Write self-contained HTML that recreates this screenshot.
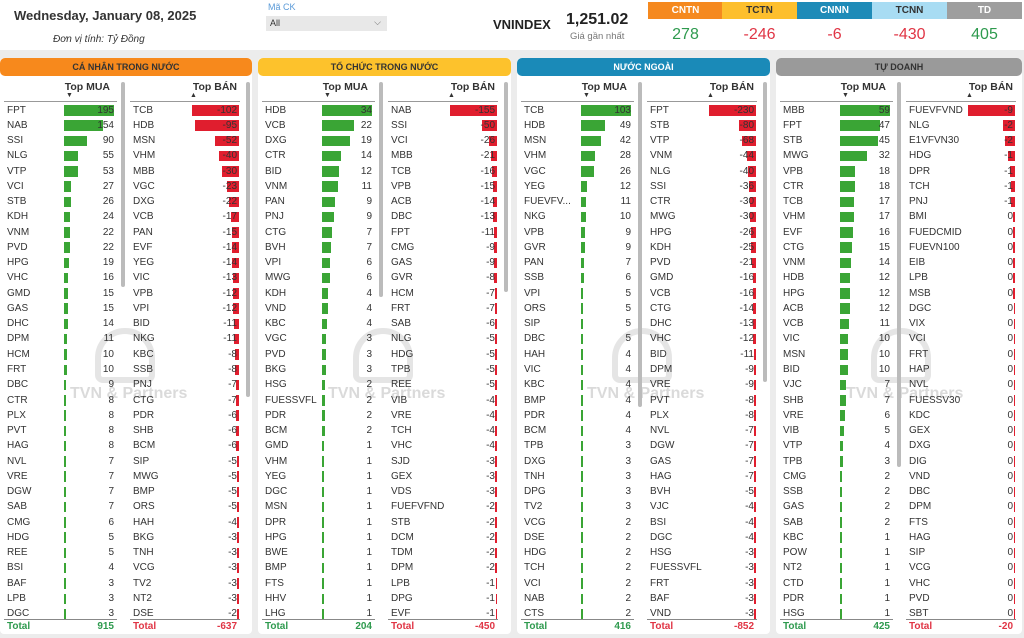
<!DOCTYPE html>
<html><head><meta charset="utf-8"><style>
*{margin:0;padding:0;box-sizing:border-box}
body{width:1024px;height:638px;overflow:hidden;background:#ececec;font-family:"Liberation Sans",sans-serif;position:relative;color:#333}
.top{position:absolute;left:0;top:0;width:1024px;height:50px;background:#fff}
.a{position:absolute;white-space:nowrap}
.tile{position:absolute;top:2px;height:17px;width:75px;text-align:center;font:bold 10px/17px "Liberation Sans",sans-serif;color:#fff}
.tv{position:absolute;top:26px;width:75px;text-align:center;font:16px "Liberation Sans",sans-serif}
.g{color:#2e9a4e}.r{color:#e03545}
.panel{position:absolute;top:58px;height:576px;background:#fff;border-radius:4px}
.ph{position:absolute;left:0;top:0;height:18px;border-radius:5px;text-align:center;font:bold 9px/18px "Liberation Sans",sans-serif;color:#333}
.col{position:absolute;top:0;height:576px}
.hd{position:absolute;top:23px;font:bold 10.5px "Liberation Sans",sans-serif;color:#333}
.ar{position:absolute;top:34px;font-size:7px;color:#333}
.ln{position:absolute;left:0;right:0;top:43px;border-top:1px solid #999}
.rows{position:absolute;left:0;right:0;top:44.5px;height:516.5px;overflow:hidden}
.rows p{position:relative;height:15.27px;font:10px/15.27px "Liberation Sans",sans-serif;color:#333}
.rows b{font-weight:normal;position:absolute;left:3px}
.rows i{position:absolute;top:2.5px;height:10.5px}
.rows s{text-decoration:none;position:absolute;right:3px}
.buy i{left:60px;background:#3aa535}
.sell i{right:1px;background:#e01e2e}
.tot{position:absolute;left:0;right:0;top:561px;border-top:1px solid #888;height:15px;font:bold 10px/13px "Liberation Sans",sans-serif}
.tot span{position:absolute;left:3px}.tot em{font-style:normal;position:absolute;right:3px}
.sb{position:absolute;width:4px;background:#bbb;border-radius:2px;top:24px}
.wm{position:absolute;top:327px;left:70px;font:bold 16px "Liberation Sans",sans-serif;color:rgba(150,150,150,.35)}
.wl{position:absolute;top:270px;left:95px;width:60px;height:55px;border:6px solid rgba(150,150,150,.25);border-radius:30px 30px 8px 8px}
</style></head><body>
<div class="top"></div>
<div class="a" style="left:14px;top:8px;font:bold 13px 'Liberation Sans',sans-serif;color:#333">Wednesday, January 08, 2025</div>
<div class="a" style="left:53px;top:34px;font:italic 10px 'Liberation Sans',sans-serif;color:#333">Đơn vị tính: Tỷ Đồng</div>
<div class="a" style="left:268px;top:2px;font:9px 'Liberation Sans',sans-serif;color:#5a9ad8">Mã CK</div>
<div class="a" style="left:266px;top:16px;width:121px;height:15px;background:#e8e8e8;font:9px/15px 'Liberation Sans',sans-serif;padding-left:4px">All<span style="position:absolute;right:6px;top:-1px;color:#666">⌵</span></div>
<div class="a" style="left:493px;top:17px;font:bold 13px 'Liberation Sans',sans-serif;color:#222">VNINDEX</div>
<div class="a" style="left:566px;top:11px;font:bold 16px 'Liberation Sans',sans-serif;color:#222">1,251.02</div>
<div class="a" style="left:570px;top:31px;font:9.5px 'Liberation Sans',sans-serif;color:#777">Giá gần nhất</div>
<div class="tile" style="left:648px;background:#f5891f">CNTN</div>
<div class="tile" style="left:722px;background:#fdbf2d;color:#333">TCTN</div>
<div class="tile" style="left:797px;background:#1e8bb8">CNNN</div>
<div class="tile" style="left:872px;background:#a8dcf3;color:#333">TCNN</div>
<div class="tile" style="left:947px;background:#9e9e9e">TD</div>
<div class="tv g" style="left:648px">278</div><div class="tv r" style="left:722px">-246</div><div class="tv r" style="left:797px">-6</div><div class="tv r" style="left:872px">-430</div><div class="tv g" style="left:947px">405</div>

<!-- CN -->
<div class="panel" style="left:0;width:252px">
<div class="ph" style="width:252px;background:#f7891c">CÁ NHÂN TRONG NƯỚC</div>
<div class="wl"></div><div class="wm">TVN &amp; Partners</div>
<div class="col buy" style="left:4px;width:113px"><div class="hd" style="right:7px">Top MUA</div><div class="ar" style="left:62px">▼</div><div class="ln"></div>
<div class="rows">
<p><b>FPT</b><i style="width:50px"></i><s>195</s></p><p><b>NAB</b><i style="width:39px"></i><s>154</s></p><p><b>SSI</b><i style="width:23px"></i><s>90</s></p><p><b>NLG</b><i style="width:14px"></i><s>55</s></p><p><b>VTP</b><i style="width:14px"></i><s>53</s></p><p><b>VCI</b><i style="width:7px"></i><s>27</s></p><p><b>STB</b><i style="width:7px"></i><s>26</s></p><p><b>KDH</b><i style="width:6px"></i><s>24</s></p><p><b>VNM</b><i style="width:6px"></i><s>22</s></p><p><b>PVD</b><i style="width:6px"></i><s>22</s></p><p><b>HPG</b><i style="width:5px"></i><s>19</s></p><p><b>VHC</b><i style="width:4px"></i><s>16</s></p><p><b>GMD</b><i style="width:4px"></i><s>15</s></p><p><b>GAS</b><i style="width:4px"></i><s>15</s></p><p><b>DHC</b><i style="width:4px"></i><s>14</s></p><p><b>DPM</b><i style="width:3px"></i><s>11</s></p><p><b>HCM</b><i style="width:3px"></i><s>10</s></p><p><b>FRT</b><i style="width:3px"></i><s>10</s></p><p><b>DBC</b><i style="width:2px"></i><s>9</s></p><p><b>CTR</b><i style="width:2px"></i><s>8</s></p><p><b>PLX</b><i style="width:2px"></i><s>8</s></p><p><b>PVT</b><i style="width:2px"></i><s>8</s></p><p><b>HAG</b><i style="width:2px"></i><s>8</s></p><p><b>NVL</b><i style="width:2px"></i><s>7</s></p><p><b>VRE</b><i style="width:2px"></i><s>7</s></p><p><b>DGW</b><i style="width:2px"></i><s>7</s></p><p><b>SAB</b><i style="width:2px"></i><s>7</s></p><p><b>CMG</b><i style="width:2px"></i><s>6</s></p><p><b>HDG</b><i style="width:2px"></i><s>5</s></p><p><b>REE</b><i style="width:2px"></i><s>5</s></p><p><b>BSI</b><i style="width:1.5px"></i><s>4</s></p><p><b>BAF</b><i style="width:1.5px"></i><s>3</s></p><p><b>LPB</b><i style="width:1.5px"></i><s>3</s></p><p><b>DGC</b><i style="width:1.5px"></i><s>3</s></p>
</div><div class="tot g"><span>Total</span><em>915</em></div></div>
<div class="sb" style="left:121px;height:205px"></div>
<div class="col sell" style="left:130px;width:110px"><div class="hd" style="right:3px">Top BÁN</div><div class="ar" style="left:60px">▲</div><div class="ln"></div>
<div class="rows">
<p><b>TCB</b><i style="width:47px"></i><s>-102</s></p><p><b>HDB</b><i style="width:44px"></i><s>-95</s></p><p><b>MSN</b><i style="width:24px"></i><s>-52</s></p><p><b>VHM</b><i style="width:20px"></i><s>-40</s></p><p><b>MBB</b><i style="width:17px"></i><s>-30</s></p><p><b>VGC</b><i style="width:12px"></i><s>-23</s></p><p><b>DXG</b><i style="width:10px"></i><s>-22</s></p><p><b>VCB</b><i style="width:8px"></i><s>-17</s></p><p><b>PAN</b><i style="width:7px"></i><s>-15</s></p><p><b>EVF</b><i style="width:7px"></i><s>-14</s></p><p><b>YEG</b><i style="width:7px"></i><s>-14</s></p><p><b>VIC</b><i style="width:6px"></i><s>-13</s></p><p><b>VPB</b><i style="width:6px"></i><s>-12</s></p><p><b>VPI</b><i style="width:6px"></i><s>-12</s></p><p><b>BID</b><i style="width:5px"></i><s>-11</s></p><p><b>NKG</b><i style="width:5px"></i><s>-11</s></p><p><b>KBC</b><i style="width:4px"></i><s>-8</s></p><p><b>SSB</b><i style="width:4px"></i><s>-8</s></p><p><b>PNJ</b><i style="width:3px"></i><s>-7</s></p><p><b>CTG</b><i style="width:3px"></i><s>-7</s></p><p><b>PDR</b><i style="width:3px"></i><s>-6</s></p><p><b>SHB</b><i style="width:3px"></i><s>-6</s></p><p><b>BCM</b><i style="width:3px"></i><s>-6</s></p><p><b>SIP</b><i style="width:2px"></i><s>-5</s></p><p><b>MWG</b><i style="width:2px"></i><s>-5</s></p><p><b>BMP</b><i style="width:2px"></i><s>-5</s></p><p><b>ORS</b><i style="width:2px"></i><s>-5</s></p><p><b>HAH</b><i style="width:2px"></i><s>-4</s></p><p><b>BKG</b><i style="width:2px"></i><s>-3</s></p><p><b>TNH</b><i style="width:2px"></i><s>-3</s></p><p><b>VCG</b><i style="width:2px"></i><s>-3</s></p><p><b>TV2</b><i style="width:2px"></i><s>-3</s></p><p><b>NT2</b><i style="width:2px"></i><s>-3</s></p><p><b>DSE</b><i style="width:2px"></i><s>-2</s></p>
</div><div class="tot r"><span>Total</span><em>-637</em></div></div>
<div class="sb" style="left:246px;height:315px"></div>
</div>

<!-- TC -->
<div class="panel" style="left:258px;width:253px">
<div class="ph" style="width:253px;background:#fdc22c">TỔ CHỨC TRONG NƯỚC</div>
<div class="wl"></div><div class="wm">TVN &amp; Partners</div>
<div class="col buy" style="left:4px;width:113px"><div class="hd" style="right:7px">Top MUA</div><div class="ar" style="left:62px">▼</div><div class="ln"></div>
<div class="rows">
<p><b>HDB</b><i style="width:50px"></i><s>34</s></p><p><b>VCB</b><i style="width:32px"></i><s>22</s></p><p><b>DXG</b><i style="width:28px"></i><s>19</s></p><p><b>CTR</b><i style="width:19px"></i><s>14</s></p><p><b>BID</b><i style="width:17px"></i><s>12</s></p><p><b>VNM</b><i style="width:16px"></i><s>11</s></p><p><b>PAN</b><i style="width:13px"></i><s>9</s></p><p><b>PNJ</b><i style="width:12px"></i><s>9</s></p><p><b>CTG</b><i style="width:10px"></i><s>7</s></p><p><b>BVH</b><i style="width:9px"></i><s>7</s></p><p><b>VPI</b><i style="width:8px"></i><s>6</s></p><p><b>MWG</b><i style="width:8px"></i><s>6</s></p><p><b>KDH</b><i style="width:6px"></i><s>4</s></p><p><b>VND</b><i style="width:6px"></i><s>4</s></p><p><b>KBC</b><i style="width:5px"></i><s>4</s></p><p><b>VGC</b><i style="width:4px"></i><s>3</s></p><p><b>PVD</b><i style="width:4px"></i><s>3</s></p><p><b>BKG</b><i style="width:4px"></i><s>3</s></p><p><b>HSG</b><i style="width:3px"></i><s>2</s></p><p><b>FUESSVFL</b><i style="width:3px"></i><s>2</s></p><p><b>PDR</b><i style="width:3px"></i><s>2</s></p><p><b>BCM</b><i style="width:3px"></i><s>2</s></p><p><b>GMD</b><i style="width:2px"></i><s>1</s></p><p><b>VHM</b><i style="width:2px"></i><s>1</s></p><p><b>YEG</b><i style="width:2px"></i><s>1</s></p><p><b>DGC</b><i style="width:2px"></i><s>1</s></p><p><b>MSN</b><i style="width:2px"></i><s>1</s></p><p><b>DPR</b><i style="width:2px"></i><s>1</s></p><p><b>HPG</b><i style="width:2px"></i><s>1</s></p><p><b>BWE</b><i style="width:2px"></i><s>1</s></p><p><b>BMP</b><i style="width:2px"></i><s>1</s></p><p><b>FTS</b><i style="width:2px"></i><s>1</s></p><p><b>HHV</b><i style="width:2px"></i><s>1</s></p><p><b>LHG</b><i style="width:2px"></i><s>1</s></p>
</div><div class="tot g"><span>Total</span><em>204</em></div></div>
<div class="sb" style="left:121px;height:215px"></div>
<div class="col sell" style="left:130px;width:110px"><div class="hd" style="right:3px">Top BÁN</div><div class="ar" style="left:60px">▲</div><div class="ln"></div>
<div class="rows">
<p><b>NAB</b><i style="width:47px"></i><s>-155</s></p><p><b>SSI</b><i style="width:15px"></i><s>-50</s></p><p><b>VCI</b><i style="width:8px"></i><s>-26</s></p><p><b>MBB</b><i style="width:6px"></i><s>-21</s></p><p><b>TCB</b><i style="width:5px"></i><s>-16</s></p><p><b>VPB</b><i style="width:4px"></i><s>-15</s></p><p><b>ACB</b><i style="width:4px"></i><s>-14</s></p><p><b>DBC</b><i style="width:4px"></i><s>-13</s></p><p><b>FPT</b><i style="width:3px"></i><s>-11</s></p><p><b>CMG</b><i style="width:3px"></i><s>-9</s></p><p><b>GAS</b><i style="width:3px"></i><s>-9</s></p><p><b>GVR</b><i style="width:3px"></i><s>-8</s></p><p><b>HCM</b><i style="width:2px"></i><s>-7</s></p><p><b>FRT</b><i style="width:2px"></i><s>-7</s></p><p><b>SAB</b><i style="width:2px"></i><s>-6</s></p><p><b>NLG</b><i style="width:2px"></i><s>-5</s></p><p><b>HDG</b><i style="width:2px"></i><s>-5</s></p><p><b>TPB</b><i style="width:2px"></i><s>-5</s></p><p><b>REE</b><i style="width:2px"></i><s>-5</s></p><p><b>VIB</b><i style="width:2px"></i><s>-4</s></p><p><b>VRE</b><i style="width:2px"></i><s>-4</s></p><p><b>TCH</b><i style="width:2px"></i><s>-4</s></p><p><b>VHC</b><i style="width:2px"></i><s>-4</s></p><p><b>SJD</b><i style="width:2px"></i><s>-3</s></p><p><b>GEX</b><i style="width:2px"></i><s>-3</s></p><p><b>VDS</b><i style="width:2px"></i><s>-3</s></p><p><b>FUEFVFND</b><i style="width:2px"></i><s>-2</s></p><p><b>STB</b><i style="width:2px"></i><s>-2</s></p><p><b>DCM</b><i style="width:2px"></i><s>-2</s></p><p><b>TDM</b><i style="width:2px"></i><s>-2</s></p><p><b>DPM</b><i style="width:2px"></i><s>-2</s></p><p><b>LPB</b><i style="width:1.5px"></i><s>-1</s></p><p><b>DPG</b><i style="width:1.5px"></i><s>-1</s></p><p><b>EVF</b><i style="width:1.5px"></i><s>-1</s></p>
</div><div class="tot r"><span>Total</span><em>-450</em></div></div>
<div class="sb" style="left:246px;height:210px"></div>
</div>

<!-- NN -->
<div class="panel" style="left:517px;width:253px">
<div class="ph" style="width:253px;background:#1a8ab8;color:#fff">NƯỚC NGOÀI</div>
<div class="wl"></div><div class="wm">TVN &amp; Partners</div>
<div class="col buy" style="left:4px;width:113px"><div class="hd" style="right:7px">Top MUA</div><div class="ar" style="left:62px">▼</div><div class="ln"></div>
<div class="rows">
<p><b>TCB</b><i style="width:50px"></i><s>103</s></p><p><b>HDB</b><i style="width:24px"></i><s>49</s></p><p><b>MSN</b><i style="width:20px"></i><s>42</s></p><p><b>VHM</b><i style="width:14px"></i><s>28</s></p><p><b>VGC</b><i style="width:13px"></i><s>26</s></p><p><b>YEG</b><i style="width:6px"></i><s>12</s></p><p><b>FUEVFV...</b><i style="width:5px"></i><s>11</s></p><p><b>NKG</b><i style="width:5px"></i><s>10</s></p><p><b>VPB</b><i style="width:4px"></i><s>9</s></p><p><b>GVR</b><i style="width:4px"></i><s>9</s></p><p><b>PAN</b><i style="width:3px"></i><s>7</s></p><p><b>SSB</b><i style="width:3px"></i><s>6</s></p><p><b>VPI</b><i style="width:2px"></i><s>5</s></p><p><b>ORS</b><i style="width:2px"></i><s>5</s></p><p><b>SIP</b><i style="width:2px"></i><s>5</s></p><p><b>DBC</b><i style="width:2px"></i><s>5</s></p><p><b>HAH</b><i style="width:2px"></i><s>4</s></p><p><b>VIC</b><i style="width:2px"></i><s>4</s></p><p><b>KBC</b><i style="width:2px"></i><s>4</s></p><p><b>BMP</b><i style="width:2px"></i><s>4</s></p><p><b>PDR</b><i style="width:2px"></i><s>4</s></p><p><b>BCM</b><i style="width:2px"></i><s>4</s></p><p><b>TPB</b><i style="width:1.5px"></i><s>3</s></p><p><b>DXG</b><i style="width:1.5px"></i><s>3</s></p><p><b>TNH</b><i style="width:1.5px"></i><s>3</s></p><p><b>DPG</b><i style="width:1.5px"></i><s>3</s></p><p><b>TV2</b><i style="width:1.5px"></i><s>3</s></p><p><b>VCG</b><i style="width:1.5px"></i><s>2</s></p><p><b>DSE</b><i style="width:1.5px"></i><s>2</s></p><p><b>HDG</b><i style="width:1.5px"></i><s>2</s></p><p><b>TCH</b><i style="width:1.5px"></i><s>2</s></p><p><b>VCI</b><i style="width:1.5px"></i><s>2</s></p><p><b>NAB</b><i style="width:1.5px"></i><s>2</s></p><p><b>CTS</b><i style="width:1.5px"></i><s>2</s></p>
</div><div class="tot g"><span>Total</span><em>416</em></div></div>
<div class="sb" style="left:121px;height:325px"></div>
<div class="col sell" style="left:130px;width:110px"><div class="hd" style="right:3px">Top BÁN</div><div class="ar" style="left:60px">▲</div><div class="ln"></div>
<div class="rows">
<p><b>FPT</b><i style="width:47px"></i><s>-230</s></p><p><b>STB</b><i style="width:17px"></i><s>-80</s></p><p><b>VTP</b><i style="width:14px"></i><s>-68</s></p><p><b>VNM</b><i style="width:9px"></i><s>-44</s></p><p><b>NLG</b><i style="width:8px"></i><s>-40</s></p><p><b>SSI</b><i style="width:7px"></i><s>-36</s></p><p><b>CTR</b><i style="width:6px"></i><s>-30</s></p><p><b>MWG</b><i style="width:6px"></i><s>-30</s></p><p><b>HPG</b><i style="width:5px"></i><s>-26</s></p><p><b>KDH</b><i style="width:5px"></i><s>-25</s></p><p><b>PVD</b><i style="width:4px"></i><s>-21</s></p><p><b>GMD</b><i style="width:3px"></i><s>-16</s></p><p><b>VCB</b><i style="width:3px"></i><s>-16</s></p><p><b>CTG</b><i style="width:3px"></i><s>-14</s></p><p><b>DHC</b><i style="width:3px"></i><s>-13</s></p><p><b>VHC</b><i style="width:3px"></i><s>-12</s></p><p><b>BID</b><i style="width:2px"></i><s>-11</s></p><p><b>DPM</b><i style="width:2px"></i><s>-9</s></p><p><b>VRE</b><i style="width:2px"></i><s>-9</s></p><p><b>PVT</b><i style="width:2px"></i><s>-8</s></p><p><b>PLX</b><i style="width:2px"></i><s>-8</s></p><p><b>NVL</b><i style="width:2px"></i><s>-7</s></p><p><b>DGW</b><i style="width:2px"></i><s>-7</s></p><p><b>GAS</b><i style="width:2px"></i><s>-7</s></p><p><b>HAG</b><i style="width:2px"></i><s>-7</s></p><p><b>BVH</b><i style="width:2px"></i><s>-5</s></p><p><b>VJC</b><i style="width:2px"></i><s>-4</s></p><p><b>BSI</b><i style="width:2px"></i><s>-4</s></p><p><b>DGC</b><i style="width:2px"></i><s>-4</s></p><p><b>HSG</b><i style="width:2px"></i><s>-3</s></p><p><b>FUESSVFL</b><i style="width:2px"></i><s>-3</s></p><p><b>FRT</b><i style="width:2px"></i><s>-3</s></p><p><b>BAF</b><i style="width:2px"></i><s>-3</s></p><p><b>VND</b><i style="width:2px"></i><s>-3</s></p>
</div><div class="tot r"><span>Total</span><em>-852</em></div></div>
<div class="sb" style="left:246px;height:300px"></div>
</div>

<!-- TD -->
<div class="panel" style="left:776px;width:246px">
<div class="ph" style="width:246px;background:#9a9a9a">TỰ DOANH</div>
<div class="wl"></div><div class="wm">TVN &amp; Partners</div>
<div class="col buy" style="left:4px;width:113px"><div class="hd" style="right:7px">Top MUA</div><div class="ar" style="left:62px">▼</div><div class="ln"></div>
<div class="rows">
<p><b>MBB</b><i style="width:50px"></i><s>59</s></p><p><b>FPT</b><i style="width:40px"></i><s>47</s></p><p><b>STB</b><i style="width:38px"></i><s>45</s></p><p><b>MWG</b><i style="width:27px"></i><s>32</s></p><p><b>VPB</b><i style="width:15px"></i><s>18</s></p><p><b>CTR</b><i style="width:15px"></i><s>18</s></p><p><b>TCB</b><i style="width:14px"></i><s>17</s></p><p><b>VHM</b><i style="width:14px"></i><s>17</s></p><p><b>EVF</b><i style="width:13px"></i><s>16</s></p><p><b>CTG</b><i style="width:12px"></i><s>15</s></p><p><b>VNM</b><i style="width:11px"></i><s>14</s></p><p><b>HDB</b><i style="width:10px"></i><s>12</s></p><p><b>HPG</b><i style="width:10px"></i><s>12</s></p><p><b>ACB</b><i style="width:10px"></i><s>12</s></p><p><b>VCB</b><i style="width:9px"></i><s>11</s></p><p><b>VIC</b><i style="width:8px"></i><s>10</s></p><p><b>MSN</b><i style="width:8px"></i><s>10</s></p><p><b>BID</b><i style="width:8px"></i><s>10</s></p><p><b>VJC</b><i style="width:6px"></i><s>7</s></p><p><b>SHB</b><i style="width:6px"></i><s>7</s></p><p><b>VRE</b><i style="width:5px"></i><s>6</s></p><p><b>VIB</b><i style="width:4px"></i><s>5</s></p><p><b>VTP</b><i style="width:3px"></i><s>4</s></p><p><b>TPB</b><i style="width:3px"></i><s>3</s></p><p><b>CMG</b><i style="width:2px"></i><s>2</s></p><p><b>SSB</b><i style="width:2px"></i><s>2</s></p><p><b>GAS</b><i style="width:2px"></i><s>2</s></p><p><b>SAB</b><i style="width:2px"></i><s>2</s></p><p><b>KBC</b><i style="width:1.5px"></i><s>1</s></p><p><b>POW</b><i style="width:1.5px"></i><s>1</s></p><p><b>NT2</b><i style="width:1.5px"></i><s>1</s></p><p><b>CTD</b><i style="width:1.5px"></i><s>1</s></p><p><b>PDR</b><i style="width:1.5px"></i><s>1</s></p><p><b>HSG</b><i style="width:1.5px"></i><s>1</s></p>
</div><div class="tot g"><span>Total</span><em>425</em></div></div>
<div class="sb" style="left:121px;height:385px"></div>
<div class="col sell" style="left:130px;width:110px"><div class="hd" style="right:3px">Top BÁN</div><div class="ar" style="left:60px">▲</div><div class="ln"></div>
<div class="rows">
<p><b>FUEVFVND</b><i style="width:47px"></i><s>-9</s></p><p><b>NLG</b><i style="width:12px"></i><s>-2</s></p><p><b>E1VFVN30</b><i style="width:10px"></i><s>-2</s></p><p><b>HDG</b><i style="width:7px"></i><s>-1</s></p><p><b>DPR</b><i style="width:5px"></i><s>-1</s></p><p><b>TCH</b><i style="width:4px"></i><s>-1</s></p><p><b>PNJ</b><i style="width:4px"></i><s>-1</s></p><p><b>BMI</b><i style="width:2px"></i><s>0</s></p><p><b>FUEDCMID</b><i style="width:2px"></i><s>0</s></p><p><b>FUEVN100</b><i style="width:2px"></i><s>0</s></p><p><b>EIB</b><i style="width:2px"></i><s>0</s></p><p><b>LPB</b><i style="width:2px"></i><s>0</s></p><p><b>MSB</b><i style="width:2px"></i><s>0</s></p><p><b>DGC</b><i style="width:1px"></i><s>0</s></p><p><b>VIX</b><i style="width:1px"></i><s>0</s></p><p><b>VCI</b><i style="width:1px"></i><s>0</s></p><p><b>FRT</b><i style="width:1px"></i><s>0</s></p><p><b>HAP</b><i style="width:1px"></i><s>0</s></p><p><b>NVL</b><i style="width:1px"></i><s>0</s></p><p><b>FUESSV30</b><i style="width:1px"></i><s>0</s></p><p><b>KDC</b><i style="width:1px"></i><s>0</s></p><p><b>GEX</b><i style="width:1px"></i><s>0</s></p><p><b>DXG</b><i style="width:1px"></i><s>0</s></p><p><b>DIG</b><i style="width:1px"></i><s>0</s></p><p><b>VND</b><i style="width:1px"></i><s>0</s></p><p><b>DBC</b><i style="width:1px"></i><s>0</s></p><p><b>DPM</b><i style="width:1px"></i><s>0</s></p><p><b>FTS</b><i style="width:1px"></i><s>0</s></p><p><b>HAG</b><i style="width:1px"></i><s>0</s></p><p><b>SIP</b><i style="width:1px"></i><s>0</s></p><p><b>VCG</b><i style="width:1px"></i><s>0</s></p><p><b>VHC</b><i style="width:1px"></i><s>0</s></p><p><b>PVD</b><i style="width:1px"></i><s>0</s></p><p><b>SBT</b><i style="width:1px"></i><s>0</s></p>
</div><div class="tot r"><span>Total</span><em>-20</em></div></div>
</div>
</body></html>
